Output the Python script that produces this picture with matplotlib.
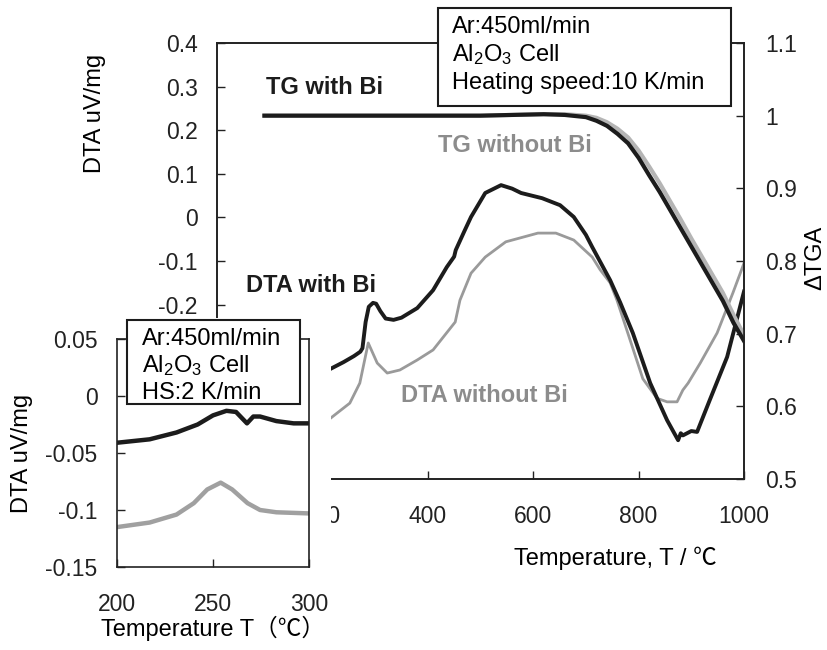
import matplotlib

matplotlib.use('Agg')
import matplotlib.pyplot as plt
from matplotlib.patches import Rectangle
from matplotlib.ticker import FuncFormatter

plt.rcParams['font.family'] = ['Liberation Sans', 'DejaVu Sans']
plt.rcParams['axes.unicode_minus'] = False
plt.rcParams['mathtext.fontset'] = 'custom'
plt.rcParams['mathtext.rm'] = 'Liberation Sans'
plt.rcParams['mathtext.default'] = 'regular'

W, H = 828, 650

# DTA, 10 K/min (left axis)
T_DTA_BI = [216, 240, 260, 272, 276, 282, 288, 296, 302, 310, 320, 335, 350, 380, 410, 436, 450,
            453, 470, 482, 509, 539, 560, 577, 617, 651, 677, 700, 712, 746, 765, 789, 822, 854,
            875, 880, 884, 900, 911, 935, 968, 1000]
DTA_BI = [-0.347, -0.332, -0.318, -0.308, -0.300, -0.240, -0.205, -0.196, -0.198, -0.215, -0.232,
          -0.235, -0.230, -0.208, -0.167, -0.114, -0.090, -0.075, -0.030, 0.001, 0.056, 0.074,
          0.066, 0.056, 0.044, 0.028, 0.001, -0.040, -0.068, -0.144, -0.195, -0.265, -0.380,
          -0.465, -0.511, -0.495, -0.500, -0.490, -0.492, -0.419, -0.320, -0.170]

T_DTA_NO = [216, 252, 271, 287, 304, 323, 347, 380, 410, 452, 461, 482, 509, 548, 609, 643, 677,
            712, 727, 746, 759, 789, 808, 835, 854, 873, 884, 894, 917, 949, 979, 1000]
DTA_NO = [-0.460, -0.426, -0.380, -0.288, -0.334, -0.357, -0.350, -0.327, -0.304, -0.240, -0.190,
          -0.128, -0.091, -0.056, -0.036, -0.036, -0.052, -0.091, -0.120, -0.150, -0.190, -0.300,
          -0.370, -0.415, -0.423, -0.423, -0.396, -0.380, -0.334, -0.265, -0.173, -0.105]

# TG (right axis)
T_TG = [90, 200, 300, 400, 500, 560, 620, 660, 700, 720, 740, 760, 780, 800, 820, 840, 860, 880,
        900, 920, 940, 960, 980, 1000]
TG_BI = [1.0, 1.0, 1.0, 1.0, 1.0, 1.001, 1.002, 1.001, 0.998, 0.993, 0.986, 0.975, 0.962, 0.942,
         0.918, 0.895, 0.870, 0.845, 0.820, 0.795, 0.770, 0.745, 0.715, 0.690]
TG_NO = [1.0, 1.0, 1.0, 1.0, 1.0, 1.001, 1.002, 1.002, 1.0, 0.997, 0.991, 0.982, 0.970, 0.952,
         0.930, 0.907, 0.882, 0.857, 0.831, 0.806, 0.781, 0.756, 0.726, 0.698]

# inset, 2 K/min
T_IN_BI = [200, 217, 231, 242, 250, 257, 262, 267.7, 271, 274.5, 283, 292, 300]
IN_BI = [-0.041, -0.038, -0.032, -0.025, -0.017, -0.013, -0.014, -0.024, -0.018, -0.018, -0.022,
         -0.024, -0.024]
T_IN_NO = [200, 217, 231, 240, 247, 254, 260, 268, 274.5, 283, 300]
IN_NO = [-0.115, -0.111, -0.104, -0.094, -0.082, -0.076, -0.082, -0.094, -0.100, -0.102, -0.103]

MAIN_XTICKS = [200, 400, 600, 800, 1000]
MAIN_YTICKS = [-0.6, -0.5, -0.4, -0.3, -0.2, -0.1, 0, 0.1, 0.2, 0.3, 0.4]
TG_TICKS = [0.5, 0.6, 0.7, 0.8, 0.9, 1.0, 1.1]
IN_XTICKS = [200, 250, 300]
IN_YTICKS = [-0.15, -0.1, -0.05, 0, 0.05]

BLACK = '#1c1c1c'
GREY_LABEL = '#8c8c8c'
FS = 16.5
CJK = ['Liberation Sans', 'Noto Sans CJK JP']


def rect(x0, y0, x1, y1):
    # pixel box (top-left origin) -> figure fraction [l, b, w, h]
    return [x0 / W, 1 - y1 / H, (x1 - x0) / W, (y1 - y0) / H]


def fp(x, y):
    return x / W, 1 - y / H


fmt = FuncFormatter(lambda v, p: '%g' % (round(v, 6) + 0.0))
# lower main labels sit under the inset anyway
fmt_main = FuncFormatter(lambda v, p: '%g' % (round(v, 6) + 0.0) if v > -0.25 else '')


def style(a, xpad=19, ypad=14):
    a.tick_params(direction='in', length=6, width=1, labelsize=FS, colors='#222222')
    a.tick_params(axis='x', pad=xpad)
    a.tick_params(axis='y', pad=ypad)
    for s in a.spines.values():
        s.set_linewidth(1.2)
        s.set_color('#222222')


fig = plt.figure(figsize=(W / 100, H / 100), dpi=100)

ax = fig.add_axes(rect(217, 43, 744, 479))
ax.set_xlim(0, 1000)
ax.set_ylim(-0.6, 0.4)
ax.set_xticks(MAIN_XTICKS)
ax.set_yticks(MAIN_YTICKS)
ax.yaxis.set_major_formatter(fmt_main)
style(ax)
ax.plot(T_DTA_NO, DTA_NO, color='#9a9a9a', lw=2.0)
ax.plot(T_DTA_BI, DTA_BI, color=BLACK, lw=2.8)

ax2 = ax.twinx()
ax2.set_ylim(0.5, 1.1)
ax2.set_yticks(TG_TICKS)
ax2.yaxis.set_major_formatter(fmt)
style(ax2, ypad=15)
ax2.plot(T_TG, TG_NO, color='#b5b5b5', lw=3.0)
ax2.plot(T_TG, TG_BI, color=BLACK, lw=3.0)

# axis labels
fig.text(*fp(95, 113), 'DTA uV/mg', rotation=90, ha='center', va='center', fontsize=17)
fig.text(*fp(815, 258), 'ΔTGA', rotation=90, ha='center', va='center', fontsize=17)
fig.text(*fp(615, 558), 'Temperature, T / ℃', ha='center', va='center', fontsize=17, family=CJK)

# curve labels
fig.text(*fp(266, 87), 'TG with Bi', ha='left', va='center', fontsize=17, fontweight='bold', color=BLACK)
fig.text(*fp(438, 145), 'TG without Bi', ha='left', va='center', fontsize=17, fontweight='bold',
         color=GREY_LABEL)
fig.text(*fp(246, 285), 'DTA with Bi', ha='left', va='center', fontsize=17, fontweight='bold', color=BLACK)
fig.text(*fp(401, 395), 'DTA without Bi', ha='left', va='center', fontsize=17, fontweight='bold',
         color=GREY_LABEL)

# condition box (main)
fig.patches.append(Rectangle(fp(438, 106), (731 - 438) / W, 98 / H, transform=fig.transFigure,
                             facecolor='white', edgecolor=BLACK, lw=1.5, zorder=10))
for yb, s in zip([33, 61, 89], ['Ar:450ml/min', r'Al$_2$O$_3$ Cell', 'Heating speed:10 K/min']):
    fig.text(*fp(452, yb), s, ha='left', va='baseline', fontsize=17, zorder=11)

# white area under the inset
fig.patches.append(Rectangle((0, 0), 331 / W, (H - 318) / H, transform=fig.transFigure,
                             facecolor='white', edgecolor='none', zorder=5))

# inset
axi = fig.add_axes(rect(117, 339, 309, 567), zorder=10)
axi.set_xlim(200, 300)
axi.set_ylim(-0.15, 0.05)
axi.set_xticks(IN_XTICKS)
axi.set_yticks(IN_YTICKS)
axi.yaxis.set_major_formatter(fmt)
style(axi)
axi.plot(T_IN_NO, IN_NO, color='#a0a0a0', lw=3.2)
axi.plot(T_IN_BI, IN_BI, color=BLACK, lw=3.2)
fig.text(*fp(22, 453), 'DTA uV/mg', rotation=90, ha='center', va='center', fontsize=17, zorder=11)
fig.text(*fp(213, 628), 'Temperature T（℃）', ha='center', va='center', fontsize=17, family=CJK,
         zorder=11)

fig.patches.append(Rectangle(fp(127, 404), (300 - 127) / W, 84 / H, transform=fig.transFigure,
                             facecolor='white', edgecolor=BLACK, lw=1.5, zorder=20))
for yb, s in zip([345, 372, 399], ['Ar:450ml/min', r'Al$_2$O$_3$ Cell', 'HS:2 K/min']):
    fig.text(*fp(142, yb), s, ha='left', va='baseline', fontsize=17, zorder=21)

fig.savefig('out.png', dpi=100)
